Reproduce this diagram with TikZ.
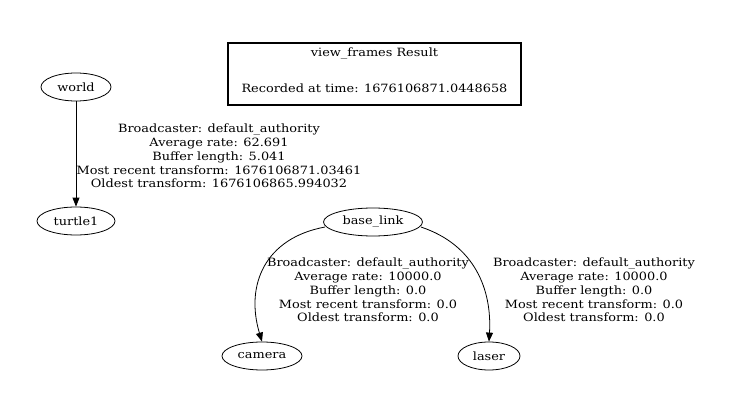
\documentclass[tikz,border=0pt]{standalone}
\usepackage{fontspec}
\setmainfont{DejaVu Serif}[FakeStretch=1.13]
\usetikzlibrary{arrows.meta,shapes.geometric}
\begin{document}
\begin{tikzpicture}[x=1pt,y=-1pt,
  every node/.style={font=\fontsize{11.4}{13.8}\selectfont, inner sep=0pt},
  frame/.style={ellipse, draw, line width=0.8pt, minimum width=#1, minimum height=28pt},
  edge/.style={draw, line width=0.8pt, -{Triangle[length=9pt,width=7pt]}},
  lbl/.style={align=center}]
\useasboundingbox (0,0) rectangle (732,412);
\node[draw, line width=1.4pt, minimum width=293pt, minimum height=62pt] (title) at (374.5,74) {};
\node (t1) at (374.5,54) {view\_frames Result};
\node (t2) at (374.5,88) {Recorded at time: 1676106871.0448658};

\node[frame=70pt] (world) at (76,87) {world};
\node[frame=78pt] (turtle1) at (76,221) {turtle1};
\node[frame=99pt] (base) at (373,222) {base\_link};
\node[frame=80pt] (camera) at (262,356) {camera};
\node[frame=62pt] (laser) at (489,356) {laser};

\draw[edge] (world) -- (turtle1);
\draw[edge] (base.west) ++(2,5) coordinate (bw) (bw) .. controls (265,238) and (245,285) .. (camera.north);
\draw[edge] (base.east) ++(-2,5) coordinate (be) (be) .. controls (475,245) and (492,290) .. (laser.north);

\node[lbl] (l1) at (219,156) {Broadcaster: default\_authority\\Average rate: 62.691\\Buffer length: 5.041\\Most recent transform: 1676106871.03461\\Oldest transform: 1676106865.994032};
\node[lbl] (l2) at (368,290) {Broadcaster: default\_authority\\Average rate: 10000.0\\Buffer length: 0.0\\Most recent transform: 0.0\\Oldest transform: 0.0};
\node[lbl] (l3) at (594,290) {Broadcaster: default\_authority\\Average rate: 10000.0\\Buffer length: 0.0\\Most recent transform: 0.0\\Oldest transform: 0.0};
\end{tikzpicture}
\end{document}
